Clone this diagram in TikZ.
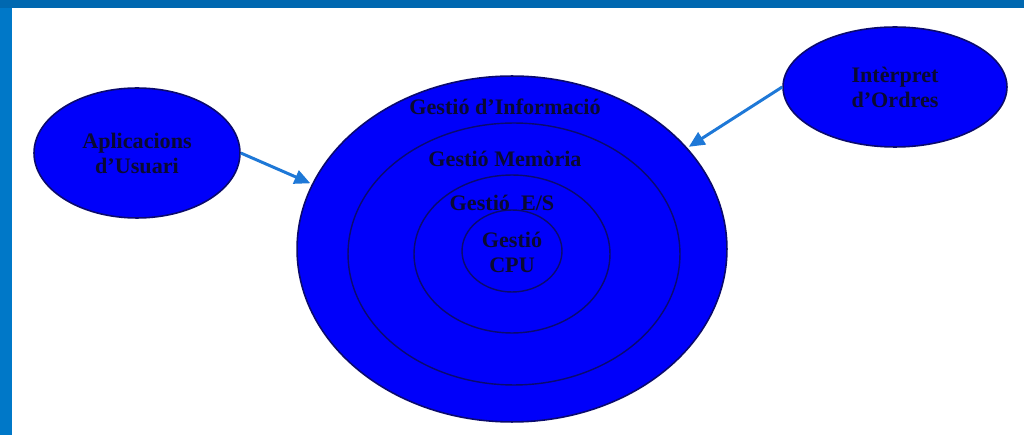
\documentclass[tikz,border=0pt]{standalone}
\usepackage{fontspec}
\setmainfont{Liberation Serif}
\usetikzlibrary{shapes.geometric,arrows.meta}
\definecolor{slideblue}{RGB}{0,104,176}
\definecolor{sideblue}{RGB}{0,120,200}
\definecolor{discblue}{RGB}{0,0,250}
\definecolor{ringline}{RGB}{10,10,110}
\definecolor{arrowblue}{RGB}{30,120,215}
\definecolor{labeltext}{RGB}{10,10,50}

\begin{document}
\begin{tikzpicture}[x=0.02cm, y=-0.02cm,
        disc/.style={draw=ringline, fill=discblue, ellipse, inner sep=0pt, line width=0.9pt},
        ring/.style={draw=ringline, ellipse, inner sep=0pt, line width=0.8pt},
        lbl/.style={text=labeltext, font=\fontsize{12.6}{14.2}\selectfont\bfseries, align=center, inner sep=0pt},
        link/.style={-{Triangle[length=9pt, width=8pt]}, draw=arrowblue, line width=1.7pt, shorten >=1pt}]
        \useasboundingbox (0,0) rectangle (1024,435);
        % slide frame
        \fill[slideblue] (0,0) rectangle (1024,8);
        \fill[sideblue] (0,8) rectangle (12,435);

        % concentric layers
        \node[disc, minimum width=8.6cm, minimum height=6.92cm] (info) at (512,249) {};
        \node[ring, minimum width=6.64cm, minimum height=5.24cm] (mem) at (514,254) {};
        \node[ring, minimum width=3.92cm, minimum height=3.16cm] (es) at (512,254) {};
        \node[ring, minimum width=2.0cm, minimum height=1.64cm] (cpu) at (512,251) {};

        \node[lbl] (infotxt) at (505,107) {Gestió d'Informació};
        \node[lbl] (memtxt) at (505,159) {Gestió Memòria};
        \node[lbl] (estxt) at (502,203) {Gestió\ \ E/S};
        \node[lbl] (cputxt) at (512,252) {Gestió\\CPU};

        % outer modules
        \node[disc, lbl, minimum width=4.12cm, minimum height=2.6cm] (usr) at (137,153) {Aplicacions\\d'Usuari};
        \node[disc, lbl, minimum width=4.48cm, minimum height=2.4cm] (ordres) at (895,87) {Intèrpret\\d'Ordres};

        \draw[link] (usr.east) -- (info.162);
        \draw[link] (ordres.west) -- (info.30);
\end{tikzpicture}
\end{document}
